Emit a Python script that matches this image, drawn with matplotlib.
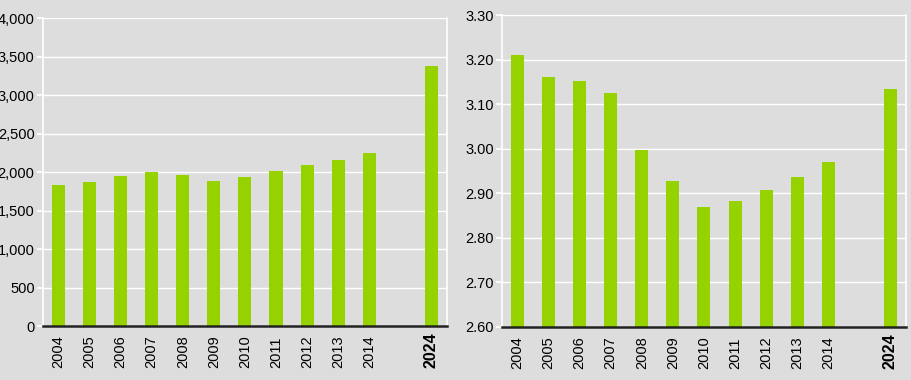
import numpy as np
import matplotlib
matplotlib.use('Agg')
import matplotlib.pyplot as plt
from matplotlib.ticker import FuncFormatter

years = ['2004', '2005', '2006', '2007', '2008', '2009', '2010',
         '2011', '2012', '2013', '2014', '2024']
slots = [0, 1, 2, 3, 4, 5, 6, 7, 8, 9, 10, 12]

left_vals = [1831, 1870, 1948, 2000, 1961, 1883, 1935, 2013, 2091, 2156, 2247, 3377]
right_vals = [3.211, 3.162, 3.153, 3.124, 2.996, 2.928, 2.870, 2.883, 2.908, 2.937, 2.971, 3.133]

bg = '#dddddd'
green = '#96d200'

plt.rcParams['font.family'] = ['Liberation Sans', 'DejaVu Sans']

fig = plt.figure(figsize=(9.12, 3.8), dpi=100)
fig.patch.set_facecolor(bg)

ax1 = fig.add_axes([0.0471, 0.1421, 0.4429, 0.8105])
ax2 = fig.add_axes([0.5504, 0.1395, 0.4430, 0.8210])


def style(ax, vals, ylim, step, fmt):
    ax.set_facecolor(bg)
    ax.bar(slots, vals, width=0.42, color=green, zorder=3)
    ax.set_xlim(-0.5, 12.5)
    ax.set_ylim(*ylim)
    ax.set_yticks(np.arange(ylim[0], ylim[1] + step / 2, step))
    ax.yaxis.set_major_formatter(FuncFormatter(fmt))
    ax.grid(axis='y', color='white', linewidth=1.0, zorder=1)
    for s in ['left', 'right']:
        ax.spines[s].set_color('white')
        ax.spines[s].set_linewidth(1.2)
    ax.spines['top'].set_visible(False)
    ax.spines['bottom'].set_color('#222222')
    ax.spines['bottom'].set_linewidth(1.8)
    ax.spines['bottom'].set_zorder(4)
    ax.tick_params(axis='y', colors='white', labelcolor='black', length=4,
                   width=1.2, labelsize=10.5, pad=2)
    ax.set_xticks(slots)
    ax.set_xticklabels(years, rotation=90, va='bottom', ha='center')
    ax.tick_params(axis='x', length=0, labelsize=10.5, pad=30)
    ax.get_xticklabels()[-1].set_fontweight('bold')
    ax.get_xticklabels()[-1].set_fontsize(11.5)


style(ax1, left_vals, (0, 4000), 500, lambda v, p: f'{v:,.0f}')
style(ax2, right_vals, (2.6, 3.3), 0.1, lambda v, p: f'{v:.2f}')

fig.savefig('out.png', dpi=100, facecolor=bg)
